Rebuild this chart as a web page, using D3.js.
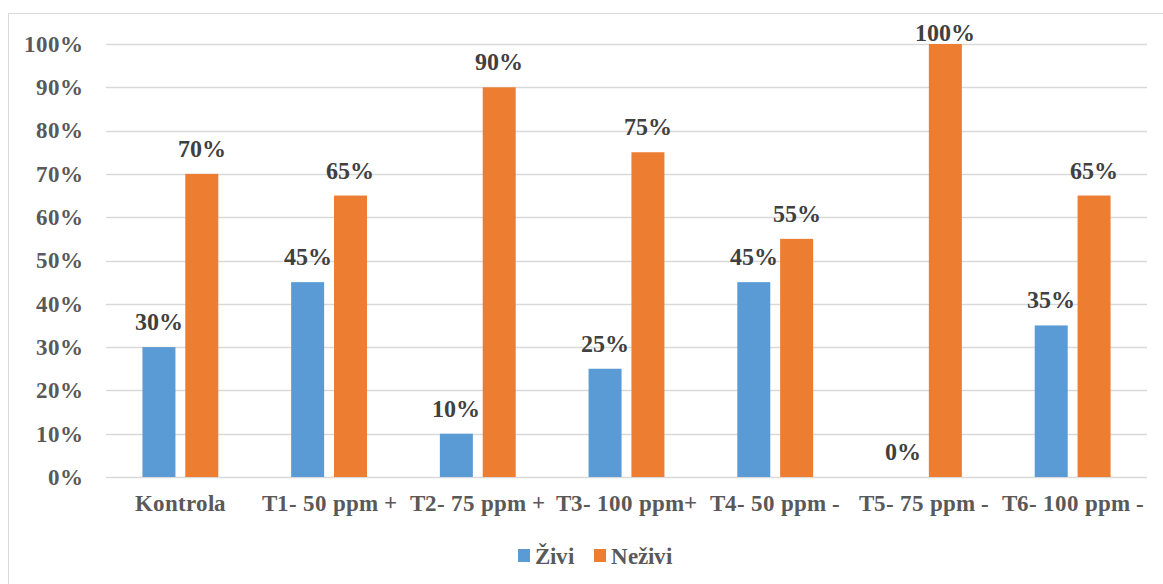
<!DOCTYPE html>
<html>
<head>
<meta charset="utf-8">
<script src="https://cdn.jsdelivr.net/npm/d3@7"></script>
<style>
  @font-face {
    font-family: "ChartSerif";
    src: local("Liberation Serif Bold"), local("LiberationSerif-Bold"), local("Times New Roman Bold");
    font-weight: bold;
  }
  body { margin: 0; background: #fff; }
  .lbl { font-family: "ChartSerif", "Liberation Serif", serif; font-weight: bold; }
</style>
</head>
<body>
<svg id="chart" width="1163" height="584"></svg>
<script>
const categories = ["Kontrola", "T1- 50 ppm +", "T2- 75 ppm +", "T3- 100 ppm+", "T4- 50 ppm -", "T5- 75 ppm -", "T6- 100 ppm -"];
const seriesNames = ["Živi", "Neživi"];
const zivi = [30, 45, 10, 25, 45, 0, 35];
const nezivi = [70, 65, 90, 75, 55, 100, 65];
const yTicks = [0, 10, 20, 30, 40, 50, 60, 70, 80, 90, 100];
const colors = ["#5B9BD5", "#ED7D31"];

const svg = d3.select("#chart");
const margin = {top: 44, right: 16, bottom: 107, left: 106},
    W = 1163, H = 584;

function serif(sel, size) {
    return sel.attr("class", "lbl").attr("font-size", size);
}

// outer chart border
svg.append("rect")
    .attr("x", 8.5).attr("y", 13.5)
    .attr("width", W).attr("height", H)
    .attr("fill", "none").attr("stroke", "#D9D9D9");

const x0 = d3.scaleBand().domain(categories)
    .range([margin.left, W - margin.right])
    .paddingInner(0.49).paddingOuter(0.245);
const x1 = d3.scaleBand().domain(seriesNames)
    .range([0, x0.bandwidth()]).paddingInner(0.23);
const y = d3.scaleLinear().domain([0, 100]).range([H - margin.bottom, margin.top]);

// gridlines
svg.append("g").selectAll("line")
    .data(yTicks).join("line")
    .attr("x1", margin.left).attr("x2", W - margin.right)
    .attr("y1", d => Math.round(y(d)) + 0.5).attr("y2", d => Math.round(y(d)) + 0.5)
    .attr("stroke", "#D9D9D9").attr("stroke-width", 1.3);

// y axis labels
const yAxis = d3.axisLeft(y).tickValues(yTicks).tickFormat(d => d + "%").tickSize(0).tickPadding(23);
svg.append("g").attr("transform", `translate(${margin.left},0)`).call(yAxis)
    .attr("font-family", null).attr("font-size", null)
    .call(g => g.select(".domain").remove())
    .call(g => serif(g.selectAll("text"), 23).attr("fill", "#595959"));

// x axis labels
const xAxis = d3.axisBottom(x0).tickSize(0).tickPadding(18);
svg.append("g").attr("transform", `translate(0,${H - margin.bottom})`).call(xAxis)
    .attr("font-family", null).attr("font-size", null)
    .call(g => g.select(".domain").remove())
    .call(g => serif(g.selectAll("text"), 23).attr("fill", "#595959"));

const rows = categories.map((c, i) => ({cat: c, vals: [zivi[i], nezivi[i]]}));

const groups = svg.append("g").selectAll("g")
    .data(rows).join("g")
    .attr("transform", d => `translate(${x0(d.cat)},0)`);

const bars = groups.selectAll("g")
    .data(d => d.vals.map((v, j) => ({key: seriesNames[j], v: v, j: j})))
    .join("g");

bars.append("rect")
    .attr("x", d => x1(d.key))
    .attr("y", d => y(d.v))
    .attr("width", x1.bandwidth())
    .attr("height", d => y(0) - y(d.v))
    .attr("fill", d => colors[d.j]);

// data labels, kept inside the plot top like excel does
serif(bars.append("text"), 24)
    .attr("x", d => x1(d.key) + x1.bandwidth() / 2)
    .attr("y", d => Math.max(y(d.v) - 17, margin.top - 3))
    .attr("text-anchor", "middle")
    .attr("fill", "#404040")
    .text(d => d.v + "%");

// legend
const legend = svg.append("g").attr("transform", "translate(518,556)");
const lx = [0, 76];
seriesNames.forEach((s, i) => {
    const g = legend.append("g").attr("transform", `translate(${lx[i]},0)`);
    g.append("rect").attr("x", 0).attr("y", -7).attr("width", 12).attr("height", 13).attr("fill", colors[i]);
    serif(g.append("text"), 23).attr("x", 17).attr("y", 8)
        .attr("fill", "#595959")
        .text(s);
});
</script>
</body>
</html>
